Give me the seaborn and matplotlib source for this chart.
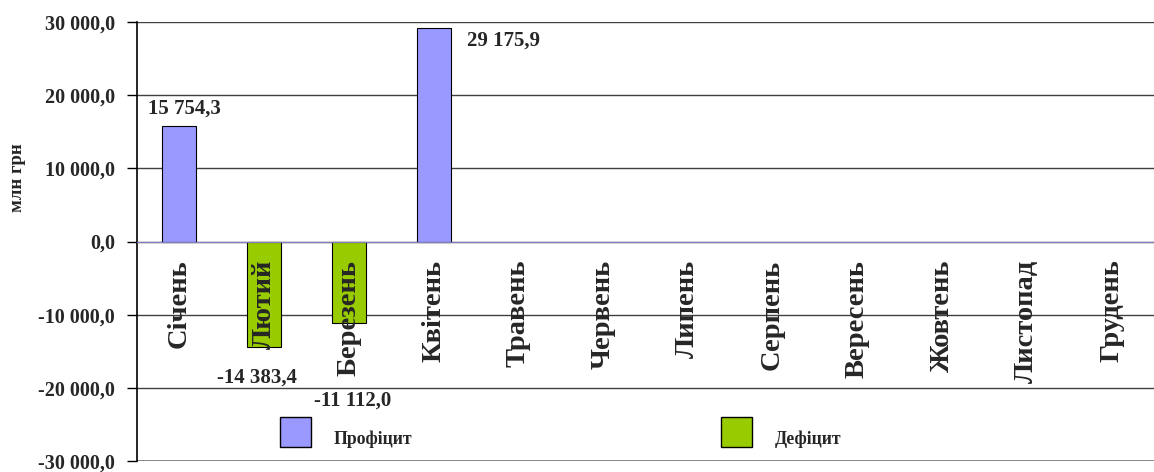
import pandas as pd
import numpy as np
import matplotlib
matplotlib.use("Agg")
import matplotlib.pyplot as plt
from matplotlib.patches import Patch
from matplotlib.ticker import FuncFormatter, FixedLocator
import seaborn as sns

# дані
misiatsi = ["Січень", "Лютий", "Березень", "Квітень", "Травень", "Червень",
            "Липень", "Серпень", "Вересень", "Жовтень", "Листопад", "Грудень"]
saldo = [15754.3, -14383.4, -11112.0, 29175.9, np.nan, np.nan,
         np.nan, np.nan, np.nan, np.nan, np.nan, np.nan]
pidpysy = ["15 754,3", "-14 383,4", "-11 112,0", "29 175,9"]
kolir_prof = "#9999FF"
kolir_def = "#99CC00"

df = pd.DataFrame({"misiats": misiatsi, "saldo": saldo})
df["typ"] = np.where(df["saldo"] >= 0, "Профіцит", "Дефіцит")

sns.set_style("white")
plt.rcParams["font.family"] = ["Liberation Serif", "DejaVu Serif"]
plt.rcParams["font.weight"] = "bold"

fig = plt.figure(figsize=(11.54, 4.72), dpi=100)
ax = fig.add_axes([137 / 1154, 11 / 472, 1 - 137 / 1154, 439 / 472])

sns.barplot(data=df.dropna(), x="misiats", y="saldo", hue="typ", order=misiatsi,
            hue_order=["Профіцит", "Дефіцит"],
            palette={"Профіцит": kolir_prof, "Дефіцит": kolir_def},
            dodge=False, width=0.4, edgecolor="black", linewidth=0.8,
            saturation=1, legend=False, ax=ax)

ax.set_xlim(-0.5, 11.5)
ax.set_ylim(-30000, 30000)
ax.set_yticks(range(-30000, 30001, 10000))
ax.yaxis.set_major_formatter(FuncFormatter(
    lambda v, p: f"{v:,.1f}".replace(",", " ").replace(".", ",")))
ax.grid(axis="y", color="#404040", linewidth=1)
ax.set_axisbelow(True)
ax.xaxis.set_zorder(3)
ax.tick_params(axis="y", labelsize=14.5, length=7, width=1, color="black", pad=9, direction="out", left=True)

for s in ["top", "right"]:
    ax.spines[s].set_visible(False)
ax.spines["left"].set_color("black")
ax.spines["left"].set_linewidth(1.2)
ax.spines["bottom"].set_position(("data", 0))
ax.spines["bottom"].set_color("#8080C0")
ax.axhline(-30000, color="#909090", linewidth=2, zorder=0.5)

# підписи місяців
ax.set_xticks(range(12))
ax.set_xticklabels(misiatsi, rotation=90, fontsize=20.5, fontweight="bold", va="top")
ax.tick_params(axis="x", which="major", length=0, pad=13)
ax.xaxis.set_minor_locator(FixedLocator(np.arange(0.5, 11.5, 1)))
ax.tick_params(axis="x", which="minor", length=7, width=1, color="#8080C0", direction="out")
ax.set_xlabel("")
ax.set_ylabel("")

# підписи значень
zsuvy = [(4, 13), (-5, -22), (3, -56), (50, -9)]
for i in range(4):
    dx, dy = zsuvy[i]
    ax.annotate(pidpysy[i], xy=(i, saldo[i]), xytext=(dx, dy), textcoords="offset points",
                ha="center", va="center", fontsize=15, fontweight="bold")

# легенда
ruchky = [Patch(facecolor=kolir_prof, edgecolor="black", label="Профіцит"),
          Patch(facecolor=kolir_def, edgecolor="black", label="Дефіцит")]
leg = ax.legend(handles=ruchky, loc="center left", bbox_to_anchor=(0.125, 0.066), ncol=2,
                frameon=False, handlelength=1.75, handleheight=2.2,
                columnspacing=17.5, handletextpad=1.3, prop={"weight": "bold", "size": 12.7})
for t in leg.get_texts():
    t.set_va("center_baseline")

fig.text(18 / 1154, 1 - 178 / 472, "млн грн", rotation=90, ha="center", va="center",
         fontsize=13.5, fontweight="bold")

fig.savefig("out.png", dpi=100)
